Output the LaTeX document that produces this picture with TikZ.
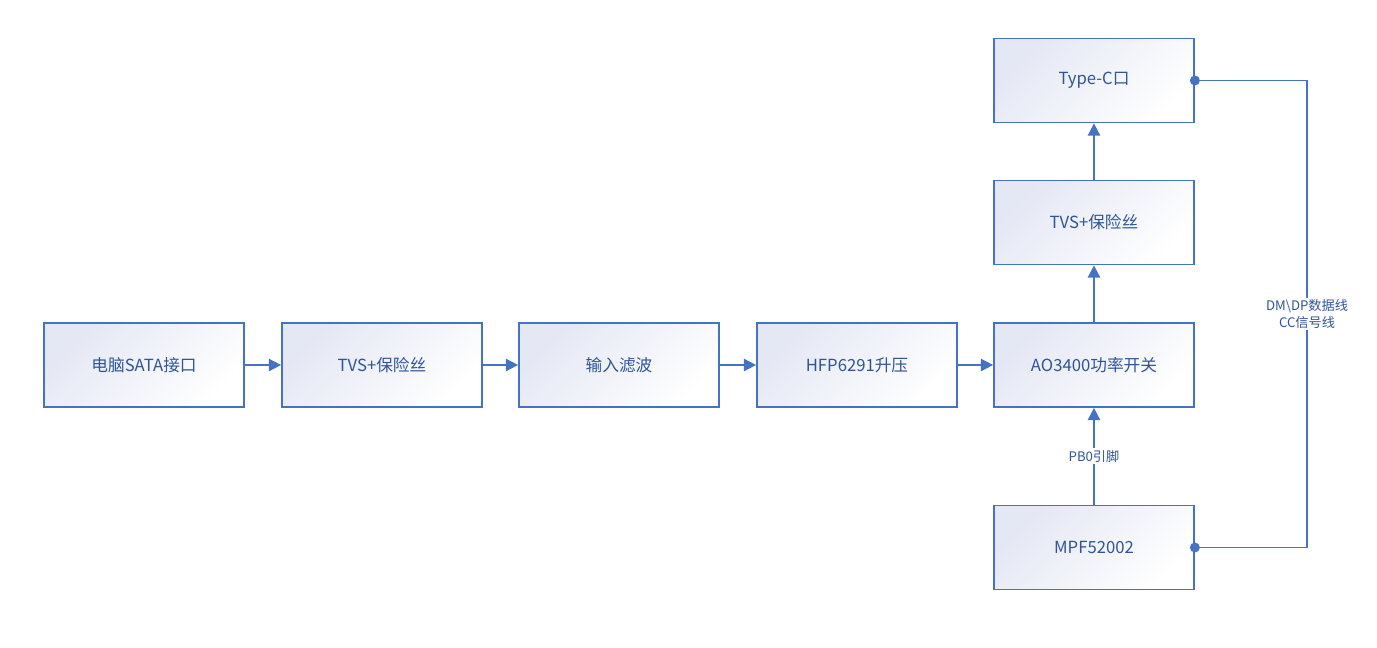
\documentclass[tikz,border=0pt]{standalone}
\usepackage{fontspec}
\setmainfont{Noto Sans CJK SC}
\usepackage{tikz}
\usetikzlibrary{arrows.meta}
\definecolor{boxline}{HTML}{4472C4}
\definecolor{boxtext}{HTML}{2F5597}
\definecolor{boxfill}{HTML}{E4E7F4}
\tikzset{
  block/.style={draw=boxline, line width=1pt, minimum width=200*0.02cm, minimum height=84*0.02cm,
    top color=boxfill, bottom color=white, shading angle=45, text=boxtext, font=\fontsize{9.5}{11}\selectfont},
  link/.style={draw=boxline, line width=1pt, -{Triangle[length=7pt,width=7pt]}},
  tag/.style={text=boxtext, font=\fontsize{7.5}{9.5}\selectfont, align=center, fill=white, inner sep=1pt}
}
\begin{document}
\begin{tikzpicture}[x=0.02cm, y=-0.02cm]
      \useasboundingbox (0,0) rectangle (1377,648);
      % Draw blocks
      \node[block] (sata) at (144,365) {电脑SATA接口};
      \node[block] (tvsa) at (382,365) {TVS+保险丝};
      \node[block] (filter) at (619,365) {输入滤波};
      \node[block] (boost) at (857,365) {HFP6291升压};
      \node[block] (switch) at (1094,365) {AO3400功率开关};
      \node[block] (tvsb) at (1094,222.5) {TVS+保险丝};
      \node[block] (typec) at (1094,80.5) {Type-C口};
      \node[block] (mcu) at (1094,547.5) {MPF52002};

      % Draw power path
      \draw[link] (sata) -- (tvsa);
      \draw[link] (tvsa) -- (filter);
      \draw[link] (filter) -- (boost);
      \draw[link] (boost) -- (switch);
      \draw[link] (switch) -- (tvsb);
      \draw[link] (tvsb) -- (typec);
      \draw[link] (mcu) -- node[tag] {PB0引脚} (switch);

      % Draw data lines
      \coordinate (corner) at (1307,80.5);
      \draw[boxline, line width=1pt] (typec.east) -- (corner) |- node[tag, pos=0.25] {DM\textbackslash DP数据线\\CC信号线} (mcu.east);
      \fill[boxline] (typec.east) circle (5);
      \fill[boxline] (mcu.east) circle (5);
  \end{tikzpicture}
\end{document}
